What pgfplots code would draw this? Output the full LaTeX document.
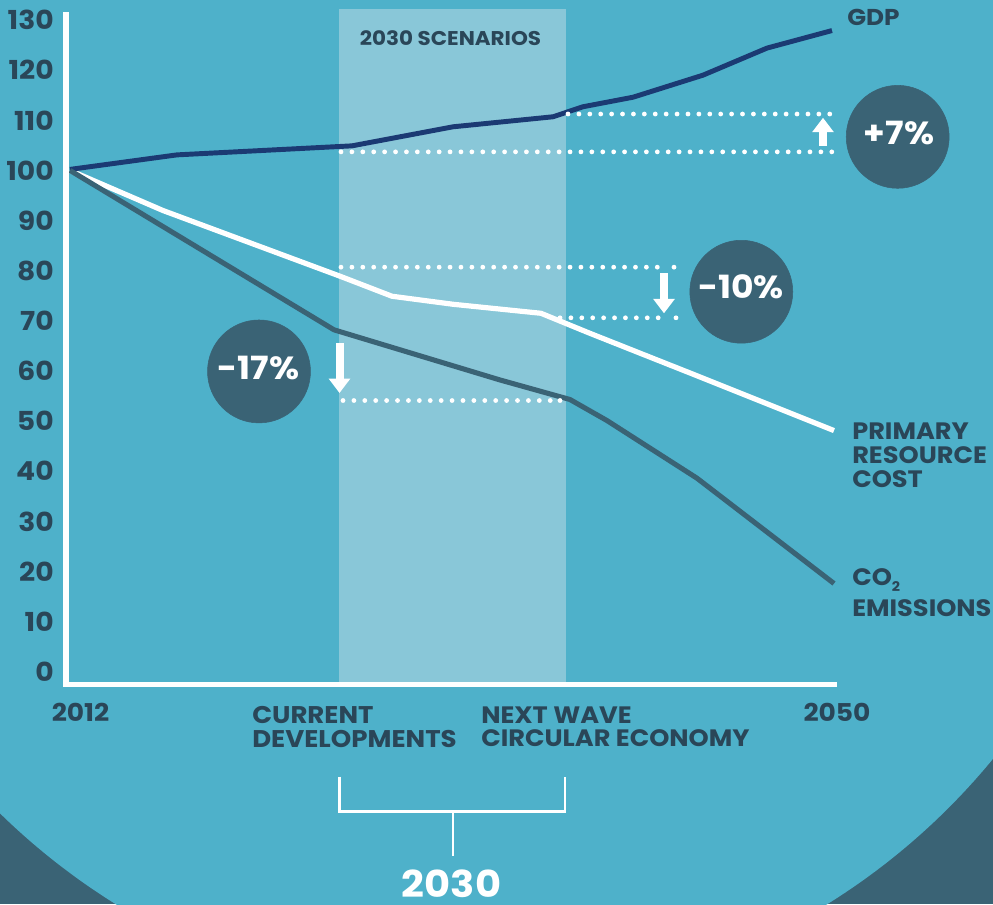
\documentclass[border=0pt]{standalone}
\usepackage{fontspec}
\setmainfont[FakeStretch=1.08]{Poppins}
\usepackage{pgfplots}
\pgfplotsset{compat=1.18}
\usetikzlibrary{arrows.meta}
\definecolor{bgblue}{HTML}{4EB1CA}
\definecolor{bandblue}{HTML}{89C7D8}
\definecolor{darkteal}{HTML}{3A6375}
\definecolor{textdark}{HTML}{2A4658}
\definecolor{navy}{HTML}{1B3A73}
\newcommand{\lab}[1]{\fontsize{#1}{#1}\selectfont\bfseries}
\begin{document}
\begin{tikzpicture}[x=0.75pt,y=-0.75pt]
\useasboundingbox (0,0) rectangle (993,904);
\begin{scope}
\clip (0,0) rectangle (993,904);
\fill[darkteal] (0,0) rectangle (993,904);
\fill[bgblue] (471.5,331) circle[radius=674.5];
\fill[bgblue] (0,0) rectangle (993,700);
\end{scope}
\coordinate (O) at (66,684.5);
\begin{axis}[
  at={(O)}, anchor=south west,
  x=0.75pt, y=3.7598pt,
  scale only axis,
  xmin=0, xmax=771, ymin=-2.55, ymax=131.6,
  axis x line=bottom, axis y line=left,
  axis line style={-, white, line width=4pt},
  axis on top, clip=false,
  major tick length=0pt,
  xtick={4,771}, xticklabels={\hspace*{15.8pt}2012,2050},
  ytick={0,10,...,130},
  /pgf/number format/assume math mode=true,
  yticklabel style={font=\lab{19.6}, text=textdark, anchor=east, inner sep=0pt, xshift=-9pt},
  xticklabel style={font=\lab{18.4}, text=textdark, anchor=north, inner sep=0pt, yshift=-13.5pt},
  every axis plot/.append style={no markers, line join=round},
]
% 2030 scenario band
\addplot[draw=none, fill=bandblue] coordinates {(273,-2.55) (273,132.2) (500,132.2) (500,-2.55)} --cycle;
% series
\addplot[white, line width=3.9pt] coordinates {(4,100) (97,92.0) (274,78.9) (326,74.9) (387,73.3) (475,71.5) (524,67.5) (634,58.8) (768,48.1)};
\addplot[navy, line width=3.7pt] coordinates {(4,100.2) (111,103.1) (286,104.9) (387,108.7) (487,110.7) (517,112.7) (567,114.6) (637,119.0) (701,124.4) (766,127.9)};
\addplot[darkteal, line width=3.8pt] coordinates {(4,100) (268,68.2) (434,58.2) (504,54.3) (541,50.1) (631,38.6) (768,17.6)};
% dotted guide lines
\pgfplotsset{dots/.style={white, line width=3.6pt, line cap=round, dash pattern=on 0pt off 8.18pt}}
\addplot[dots] coordinates {(502,111.25) (766,111.25)};
\addplot[dots] coordinates {(275,103.7) (766,103.7)};
\addplot[dots] coordinates {(275,80.7) (600,80.7)};
\addplot[dots] coordinates {(608,80.7) (609,80.7)};
\addplot[dots] coordinates {(494,70.6) (602,70.6)};
\addplot[dots] coordinates {(610,70.6) (611,70.6)};
\addplot[dots] coordinates {(277,54.1) (486,54.1)};
\addplot[dots] coordinates {(494,54.1) (495,54.1)};
% arrows
\pgfplotsset{arr/.style={white, line width=6pt, -{Triangle[width=15.6pt,length=10.8pt]}}}
\addplot[arr] coordinates {(757,104.9) (757,110.5)};
\addplot[arr] coordinates {(598,79.5) (598,71.5)};
\addplot[arr] coordinates {(273.5,65.5) (273.5,55.6)};
% circles
\addplot[darkteal, only marks, mark=*, mark size=38.6pt, mark options={draw=darkteal, fill=darkteal}] coordinates {(193,59.9) (831.7,106.7) (675.3,75.8)};
\coordinate (p17) at (axis cs:192.5,60.6);
\coordinate (p7) at (axis cs:833,107.5);
\coordinate (p10) at (axis cs:675,76.7);
\end{axis}
\fill[white] (63.3,682) rectangle (68.6,687);
\node[white, font=\lab{24}, inner sep=0pt] at (p17) {-17\%};
\node[white, font=\lab{24}, inner sep=0pt] at (p7) {+7\%};
\node[white, font=\lab{24}, inner sep=0pt] at (p10) {-10\%};
\node[anchor=center, text=textdark, font=\lab{14.9}] at (450.5,38) {2030 SCENARIOS};
\node[anchor=west, inner sep=0pt, text=textdark, font=\lab{17.2}] at (847,17.5) {GDP};
\node[anchor=west, inner sep=0pt, text=textdark, font=\lab{17.8}] at (852,431) {PRIMARY};
\node[anchor=west, inner sep=0pt, text=textdark, font=\lab{17.8}] at (852,455) {RESOURCE};
\node[anchor=west, inner sep=0pt, text=textdark, font=\lab{17.8}] at (852,479) {COST};
\node[anchor=west, inner sep=0pt, text=textdark, font=\lab{17.8}] at (852,580) {CO\raisebox{-4pt}{\fontsize{10}{10}\selectfont 2}};
\node[anchor=west, inner sep=0pt, text=textdark, font=\lab{17.8}] at (852,608.5) {EMISSIONS};
\node[anchor=west, inner sep=0pt, text=textdark, font=\lab{18.1}] at (252,715) {CURRENT};
\node[anchor=west, inner sep=0pt, text=textdark, font=\lab{18.1}] at (252,738.5) {DEVELOPMENTS};
\node[anchor=west, inner sep=0pt, text=textdark, font=\lab{17.8}] at (481,715) {NEXT WAVE};
\node[anchor=west, inner sep=0pt, text=textdark, font=\lab{17.8}] at (481,738.5) {CIRCULAR ECONOMY};
\draw[white, line width=2pt] (339.5,776.5) -- (339.5,811.5) -- (565,811.5) -- (565,776.5);
\draw[white, line width=2pt] (453,811.5) -- (453,856);
\node[white, font=\lab{27.8}, inner sep=0pt] at (451.5,883.5) {2030};
\end{tikzpicture}
\end{document}
